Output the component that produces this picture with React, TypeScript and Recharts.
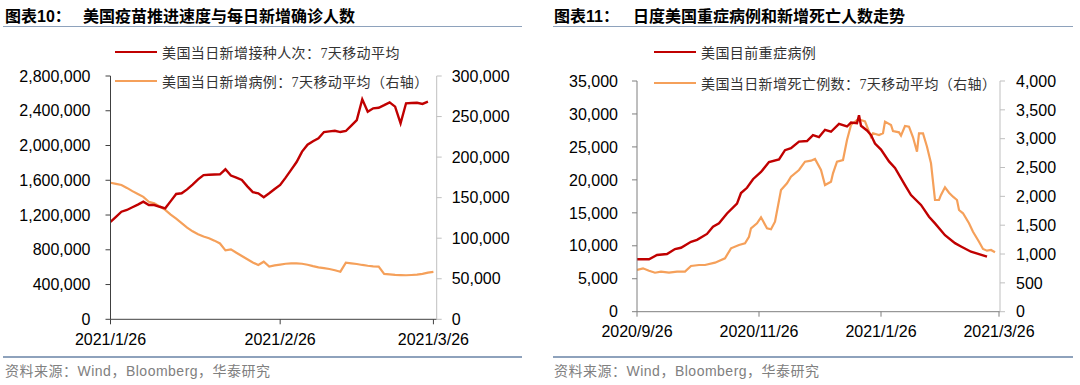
import React from 'react';
import { LineChart, Line, XAxis, YAxis } from 'recharts';

// ---------- helpers ----------
const toDay = (s: string) => {
  const [y, m, d] = s.split('-').map(Number);
  return Date.UTC(y, m - 1, d) / 86400000;
};
const fmtDate = (t: number) => {
  const dt = new Date(Math.round(t) * 86400000);
  return `${dt.getUTCFullYear()}/${dt.getUTCMonth() + 1}/${dt.getUTCDate()}`;
};
const fmtNum = (v: number) => v.toLocaleString('en-US');

// ---------- chart 10 data (daily from 2021-01-26) ----------
const vaccStartDate = '2021-01-26';
const vaccValues = [
  1120000, 1180000, 1238000, 1258000, 1290000, 1320000, 1353000, 1315000, 1315000, 1295000,
  1277000, 1360000, 1442000, 1450000, 1495000, 1550000, 1610000, 1660000, 1663000, 1667000,
  1669000, 1726000, 1655000, 1630000, 1603000, 1530000, 1463000, 1450000, 1405000, 1450000,
  1500000, 1546000, 1630000, 1720000, 1810000, 1930000, 2010000, 2050000, 2083000, 2155000,
  2163000, 2170000, 2155000, 2167000, 2230000, 2293000, 2532000, 2389000, 2428000, 2435000,
  2465000, 2497000, 2447000, 2256000, 2486000, 2490000, 2492000, 2478000, 2504000,
];
const caseValues = [
  168400, 167000, 165600, 162000, 158000, 154500, 151000, 145000, 143000, 139000,
  135000, 129000, 124000, 118500, 113000, 108500, 105000, 102000, 100000, 97000,
  93500, 85000, 86300, 82000, 78000, 74000, 70000, 67000, 71000, 65000,
  66500, 67500, 68500, 69000, 69000, 68500, 67300, 65500, 64000, 63000,
  62000, 60500, 58700, 69800, 69000, 68200, 67000, 66000, 65300, 64900,
  56000, 55500, 54800, 54500, 54300, 54600, 55000, 56000, 57500, 58500,
];
const leftXTicks = ['2021-01-26', '2021-02-26', '2021-03-26'];
const leftYTicks = [0, 400000, 800000, 1200000, 1600000, 2000000, 2400000, 2800000];
const leftY2Ticks = [0, 50000, 100000, 150000, 200000, 250000, 300000];

// ---------- chart 11 data ----------
const icuDates = [
  '2020-09-26', '2020-09-29', '2020-10-02', '2020-10-06', '2020-10-11', '2020-10-15', '2020-10-18',
  '2020-10-23', '2020-10-26', '2020-10-31', '2020-11-03', '2020-11-06', '2020-11-10', '2020-11-15',
  '2020-11-17', '2020-11-20', '2020-11-23', '2020-11-27', '2020-12-01', '2020-12-06', '2020-12-09',
  '2020-12-12', '2020-12-16', '2020-12-20', '2020-12-23', '2020-12-26', '2020-12-29', '2021-01-01',
  '2021-01-05', '2021-01-09', '2021-01-11', '2021-01-14', '2021-01-15', '2021-01-16', '2021-01-19',
  '2021-01-21', '2021-01-23', '2021-01-26', '2021-01-30', '2021-02-02', '2021-02-07', '2021-02-10',
  '2021-02-15', '2021-02-19', '2021-02-22', '2021-02-27', '2021-03-04', '2021-03-07', '2021-03-12',
  '2021-03-16', '2021-03-20',
];
const icuValues = [
  7950, 7950, 7950, 8600, 8750, 9500, 9700,
  10600, 10900, 11800, 12900, 13400, 14900, 16400,
  18000, 18800, 20100, 21200, 22700, 23100, 24500,
  24800, 25800, 25900, 26800, 26500, 27600, 27300,
  28500, 28100, 28700, 28600, 29800, 28200, 27500,
  26800, 25500, 24600, 22800, 21800, 19200, 17700,
  16200, 14400, 13400, 11600, 10400, 9900, 9100,
  8750, 8350,
];
const deathDates = [
  '2020-09-26', '2020-09-29', '2020-10-02', '2020-10-05', '2020-10-08', '2020-10-12', '2020-10-16',
  '2020-10-20', '2020-10-23', '2020-10-27', '2020-10-30', '2020-11-04', '2020-11-09', '2020-11-12',
  '2020-11-16', '2020-11-19', '2020-11-21', '2020-11-22', '2020-11-25', '2020-11-27', '2020-11-30',
  '2020-12-02', '2020-12-04', '2020-12-07', '2020-12-10', '2020-12-12', '2020-12-16', '2020-12-19',
  '2020-12-22', '2020-12-24', '2020-12-27', '2020-12-29', '2021-01-01', '2021-01-02', '2021-01-04',
  '2021-01-07', '2021-01-09', '2021-01-11', '2021-01-14', '2021-01-16', '2021-01-18', '2021-01-21',
  '2021-01-22', '2021-01-25', '2021-01-27', '2021-01-28', '2021-01-31', '2021-02-01', '2021-02-04',
  '2021-02-05', '2021-02-07', '2021-02-09', '2021-02-11', '2021-02-13', '2021-02-14', '2021-02-16',
  '2021-02-18', '2021-02-20', '2021-02-22', '2021-02-24', '2021-02-25', '2021-02-27', '2021-03-01',
  '2021-03-03', '2021-03-05', '2021-03-06', '2021-03-08', '2021-03-11', '2021-03-13', '2021-03-16',
  '2021-03-18', '2021-03-20', '2021-03-22', '2021-03-24',
];
const deathValues = [
  723, 752, 711, 676, 694, 676, 694,
  694, 792, 810, 810, 850, 926, 1099,
  1157, 1186, 1300, 1446, 1533, 1637, 1446,
  1429, 1561, 2110, 2226, 2341, 2457, 2601,
  2618, 2648, 2457, 2197, 2254, 2400, 2601,
  2630, 2977, 3237, 3324, 3324, 3300, 3034,
  3093, 3064, 3093, 3295, 3237, 3133, 3110,
  3052, 3220, 3208, 3024, 2774, 3093, 3093,
  2861, 2573, 1937, 1937, 2024, 2157, 2064,
  1994, 1937, 1763, 1706, 1533, 1387, 1214,
  1087, 1058, 1070, 1030,
];
const rightXTicks = ['2020-09-26', '2020-11-26', '2021-01-26', '2021-03-26'];
const rightYTicks = [0, 5000, 10000, 15000, 20000, 25000, 30000, 35000];
const rightY2Ticks = [0, 500, 1000, 1500, 2000, 2500, 3000, 3500, 4000];

// ---------- derived tables ----------
const leftStart = toDay(vaccStartDate);
const leftData = caseValues.map((c, i) => ({ t: leftStart + i, vacc: vaccValues[i], cases: c }));
const icuData = icuDates.map((d, i) => ({ t: toDay(d), v: icuValues[i] }));
const deathData = deathDates.map((d, i) => ({ t: toDay(d), v: deathValues[i] }));

const RED = '#C00000';
const ORANGE = '#F5A05A';
const tickFont = { fill: '#000', fontSize: 16, fontFamily: "'Liberation Sans', Arial, sans-serif" };
const cjk = "'Liberation Sans', 'Noto Sans CJK SC', sans-serif";
const legendFont = "'Liberation Serif', 'Noto Sans CJK SC', serif";

const Legend = ({ x, y, color, text }: { x: number; y: number; color: string; text: string }) => (
  <div style={{ position: 'absolute', left: x, top: y - 10, height: 20, display: 'flex', alignItems: 'center', whiteSpace: 'nowrap' }}>
    <div style={{ width: 42, height: 2.5, background: color }} />
    <span style={{ marginLeft: 5, fontSize: 14, letterSpacing: 0.4, color: '#333', fontFamily: legendFont }}>{text}</span>
  </div>
);

const Title = ({ x, x2, y, a, b }: { x: number; x2: number; y: number; a: string; b: string }) => (
  <>
    <div style={{ position: 'absolute', left: x, top: y, fontSize: 16, fontWeight: 'bold', fontFamily: cjk, lineHeight: '20px', color: '#000', whiteSpace: 'nowrap' }}>{a}</div>
    <div style={{ position: 'absolute', left: x2, top: y, fontSize: 16, fontWeight: 'bold', fontFamily: cjk, lineHeight: '20px', color: '#000', whiteSpace: 'nowrap' }}>{b}</div>
  </>
);

const Rule = ({ x1, x2, y }: { x1: number; x2: number; y: number }) => (
  <div style={{ position: 'absolute', left: x1, top: y, width: x2 - x1, height: 1.5, background: '#8EA2BC' }} />
);

const Source = ({ x }: { x: number }) => (
  <div style={{ position: 'absolute', left: x, top: 361, fontSize: 14, lineHeight: '20px', color: '#808080', fontFamily: cjk, whiteSpace: 'nowrap', letterSpacing: 0.5 }}>
    资料来源：Wind，Bloomberg，华泰研究
  </div>
);

export default function App() {
  return (
    <div style={{ position: 'absolute', left: 0, top: 0, width: 1080, height: 385, background: '#fff', overflow: 'hidden' }}>
      <Title x={5} x2={83} y={7} a="图表10：" b="美国疫苗推进速度与每日新增确诊人数" />
      <Title x={554} x2={633} y={7} a="图表11：" b="日度美国重症病例和新增死亡人数走势" />
      <Rule x1={3} x2={522} y={25.5} />
      <Rule x1={553} x2={1073} y={25.5} />
      <Rule x1={3} x2={522} y={356} />
      <Rule x1={553} x2={1073} y={356} />
      <Source x={5} />
      <Source x={554} />

      {/* Chart 10 */}
      <div style={{ position: 'absolute', left: 0, top: 0 }}>
        <LineChart width={540} height={385} data={leftData} margin={{ top: 76, right: 0, bottom: 25.7, left: 0 }}>
          <XAxis
            dataKey="t"
            type="number"
            domain={[leftStart, leftStart + 59.6]}
            ticks={leftXTicks.map(toDay)}
            tickFormatter={fmtDate}
            height={40}
            stroke="#404040"
            tickSize={5}
            tickMargin={9}
            tick={tickFont}
            allowDataOverflow
          />
          <YAxis
            yAxisId="l"
            domain={[0, 2800000]}
            ticks={leftYTicks}
            tickFormatter={fmtNum}
            width={110.5}
            stroke="#404040"
            tickSize={5}
            tickMargin={15}
            tick={tickFont}
            interval={0}
          />
          <YAxis
            yAxisId="r"
            orientation="right"
            domain={[0, 300000]}
            ticks={leftY2Ticks}
            tickFormatter={fmtNum}
            width={103.3}
            stroke="#BFBFBF"
            tickSize={5}
            tickMargin={10}
            tick={tickFont}
            interval={0}
          />
          <Line yAxisId="r" dataKey="cases" stroke={ORANGE} strokeWidth={2.2} dot={false} isAnimationActive={false} type="linear" />
          <Line yAxisId="l" dataKey="vacc" stroke={RED} strokeWidth={2.4} dot={false} isAnimationActive={false} type="linear" />
        </LineChart>
      </div>

      {/* Chart 11 */}
      <div style={{ position: 'absolute', left: 540, top: 0 }}>
        <LineChart width={540} height={385} margin={{ top: 81, right: 0, bottom: 33.3, left: 0 }}>
          <XAxis
            dataKey="t"
            type="number"
            domain={[toDay('2020-09-26'), toDay('2020-09-26') + 181.5]}
            ticks={rightXTicks.map(toDay)}
            tickFormatter={fmtDate}
            height={40}
            stroke="#7F7F7F"
            tickSize={5}
            tickMargin={9}
            tick={tickFont}
            allowDataOverflow
          />
          <YAxis
            yAxisId="l"
            domain={[0, 35000]}
            ticks={rightYTicks}
            tickFormatter={fmtNum}
            width={97}
            stroke="#7F7F7F"
            tickSize={5}
            tickMargin={14}
            tick={tickFont}
            interval={0}
          />
          <YAxis
            yAxisId="r"
            orientation="right"
            domain={[0, 4000]}
            ticks={rightY2Ticks}
            tickFormatter={fmtNum}
            width={80}
            stroke="#BFBFBF"
            tickSize={5}
            tickMargin={11}
            tick={tickFont}
            interval={0}
          />
          <Line yAxisId="r" data={deathData} dataKey="v" stroke={ORANGE} strokeWidth={2.2} dot={false} isAnimationActive={false} type="linear" />
          <Line yAxisId="l" data={icuData} dataKey="v" stroke={RED} strokeWidth={2.4} dot={false} isAnimationActive={false} type="linear" />
        </LineChart>
      </div>

      <Legend x={115} y={52} color={RED} text="美国当日新增接种人次：7天移动平均" />
      <Legend x={115} y={81} color={ORANGE} text="美国当日新增病例：7天移动平均（右轴）" />
      <Legend x={654} y={52} color={RED} text="美国目前重症病例" />
      <Legend x={654} y={83} color={ORANGE} text="美国当日新增死亡例数：7天移动平均（右轴）" />
    </div>
  );
}
